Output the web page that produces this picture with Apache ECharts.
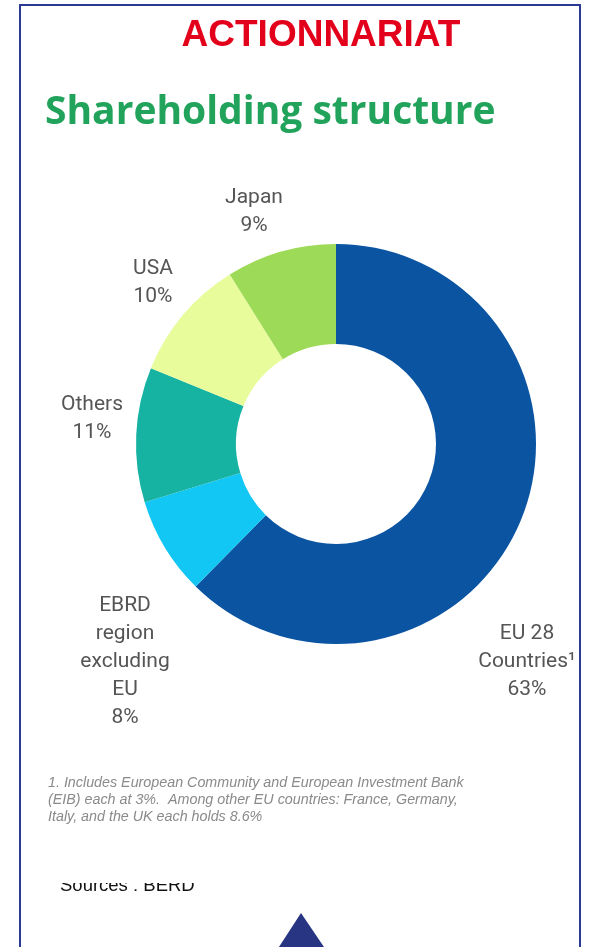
<!DOCTYPE html>
<html><head><meta charset="utf-8">
<script src="https://cdn.jsdelivr.net/npm/echarts@6/dist/echarts.min.js"></script>
<style>html,body{margin:0;padding:0;background:#fff}#c{width:593px;height:947px}</style>
</head><body><div id="c"></div>
<script>
const categories = ["EU 28\nCountries¹", "EBRD\nregion\nexcluding\nEU", "Others", "USA", "Japan"];
const shares = [63, 8, 11, 10, 9];
const sliceColors = ["#0A54A2", "#12C7F4", "#16B3A2", "#E8FC9C", "#9DDA57"];
const labelPos = [[527, 662], [125, 662], [92, 419], [153, 283], [254, 212]];

const chart = echarts.init(document.getElementById('c'), null, {renderer: 'canvas'});
chart.setOption({
  backgroundColor: '#fff',
  animation: false,
  series: [{
    type: 'pie',
    center: [336, 444],
    radius: [100, 200],
    startAngle: 90,
    clockwise: true,
    silent: true,
    data: categories.map((n, i) => ({name: n, value: shares[i], itemStyle: {color: sliceColors[i]}})),
    label: {
      show: true,
      position: 'outside',
      formatter: p => p.name + '\n' + p.value + '%',
      color: '#555',
      fontFamily: 'Roboto',
      fontSize: 21,
      lineHeight: 28,
      align: 'center',
      overflow: 'none'
    },
    labelLine: {show: false},
    labelLayout: p => ({x: labelPos[p.dataIndex][0], y: labelPos[p.dataIndex][1], align: 'center', verticalAlign: 'middle'})
  }],
  graphic: [
    {type: 'rect', shape: {x: 20, y: 5, width: 560, height: 960}, style: {fill: 'none', stroke: '#2B3990', lineWidth: 2}, z: 10},
    {type: 'text', x: 321, y: 36, style: {text: 'ACTIONNARIAT', fill: '#E2001A', font: 'bold 37px "Liberation Sans", Arial', align: 'center', verticalAlign: 'middle'}},
    {type: 'text', x: 45, y: 113, style: {text: 'Shareholding structure', fill: '#21A35B', font: 'bold 39px "Open Sans"', align: 'left', verticalAlign: 'middle'}},
    {type: 'text', x: 48, y: 775, style: {text: '1. Includes European Community and European Investment Bank\n(EIB) each at 3%.  Among other EU countries: France, Germany,\nItaly, and the UK each holds 8.6%', fill: '#8a8a8a', font: 'italic 14.3px "Liberation Sans", Arial', lineHeight: 17, align: 'left', verticalAlign: 'top'}},
    {type: 'text', x: 60, y: 886, style: {text: 'Sources : BERD', fill: '#111', font: '18.5px "Liberation Sans", Arial', align: 'left', verticalAlign: 'middle'}, z: 1},
    {type: 'rect', shape: {x: 40, y: 865, width: 300, height: 18}, style: {fill: '#fff'}, z: 5},
    {type: 'polygon', shape: {points: [[301, 913], [277, 950], [326, 950]]}, style: {fill: '#283583'}}
  ]
});
</script></body></html>
